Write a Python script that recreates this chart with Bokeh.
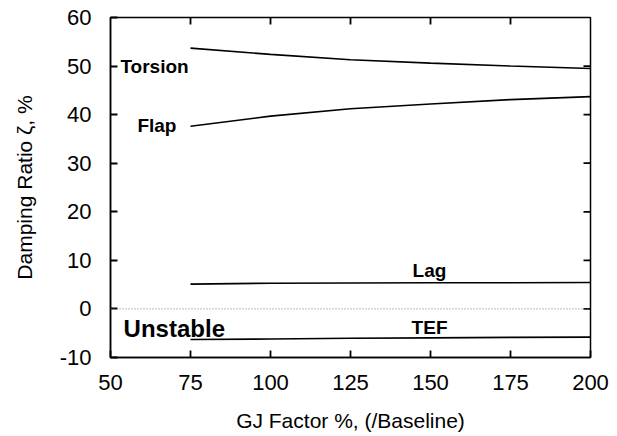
from bokeh.plotting import figure
from bokeh.models import FixedTicker, Span, Label, Range1d, PrintfTickFormatter
from bokeh.embed import file_html
from bokeh.resources import INLINE

gj = [75, 100, 125, 150, 175, 200]
torsion = [53.7, 52.4, 51.3, 50.6, 50.0, 49.5]
flap = [37.6, 39.7, 41.2, 42.2, 43.1, 43.7]
lag = [5.1, 5.3, 5.35, 5.4, 5.4, 5.45]
tef = [-6.3, -6.2, -6.05, -5.95, -5.85, -5.8]

x_ticks = [50, 75, 100, 125, 150, 175, 200]
y_ticks = [-10, 0, 10, 20, 30, 40, 50, 60]

mode_labels = ["Torsion", "Flap", "Lag", "TEF"]
mode_label_x = [53.1, 58.4, 144.4, 144.1]
mode_label_y = [49.9, 37.8, 7.9, -3.9]

FONT = "Liberation Sans"
X0, X1, Y0, Y1 = 50, 200, -10, 60
FW, FH = 480, 340
TICK = 7  # px

p = figure(width=617, height=436, frame_width=FW, frame_height=FH,
           x_range=Range1d(X0, X1), y_range=Range1d(Y0, Y1),
           output_backend="svg", toolbar_location=None,
           min_border_left=110, min_border_right=27,
           min_border_top=17, min_border_bottom=79)
p.grid.visible = False
p.outline_line_color = "black"
p.outline_line_width = 1.5

for ax, ticks in ((p.xaxis[0], x_ticks), (p.yaxis[0], y_ticks)):
    ax.ticker = FixedTicker(ticks=ticks)
    ax.formatter = PrintfTickFormatter(format="%d")
    ax.major_tick_in = TICK
    ax.major_tick_out = 0
    ax.minor_tick_line_color = None
    ax.axis_line_width = 1.5
    ax.major_tick_line_width = 1.8
    ax.major_tick_line_color = "black"
    ax.major_label_text_font = FONT
    ax.major_label_text_font_size = "22px"
    ax.major_label_text_color = "black"
    ax.axis_label_text_font = FONT
    ax.axis_label_text_font_size = "21px"
    ax.axis_label_text_font_style = "normal"
    ax.axis_label_text_color = "black"

p.xaxis.axis_label = "GJ Factor %, (/Baseline)"
p.yaxis.axis_label = "Damping Ratio ζ, %"
p.xaxis.major_label_standoff = 17
p.yaxis.major_label_standoff = 19
p.xaxis.axis_label_standoff = 16
p.yaxis.axis_label_standoff = 21

# inward ticks on the top and right frame edges
dy = TICK * (Y1 - Y0) / FH
dx = TICK * (X1 - X0) / FW
tx = x_ticks[1:-1]
ty = y_ticks[1:-1]
p.segment(x0=tx, y0=[Y1] * len(tx), x1=tx, y1=[Y1 - dy] * len(tx),
          line_color="black", line_width=1.8)
p.segment(x0=[X1] * len(ty), y0=ty, x1=[X1 - dx] * len(ty), y1=ty,
          line_color="black", line_width=1.8)

p.add_layout(Span(location=0, dimension="width", line_color="#777777",
                  line_dash="1 2", line_width=1))

for ys in (torsion, flap, lag, tef):
    p.line(gj, ys, line_color="black", line_width=1.6)

for t, lx, ly in zip(mode_labels, mode_label_x, mode_label_y):
    p.add_layout(Label(x=lx, y=ly, text=t, text_font=FONT, text_font_size="19px",
                       text_font_style="bold", text_align="left",
                       text_baseline="alphabetic", text_color="black"))

p.add_layout(Label(x=54.1, y=-4.1, text="Unstable", text_font=FONT, text_font_size="24px",
                   text_font_style="bold", text_align="left",
                   text_baseline="alphabetic", text_color="black"))

open("out.html", "w").write(file_html(p, INLINE))
